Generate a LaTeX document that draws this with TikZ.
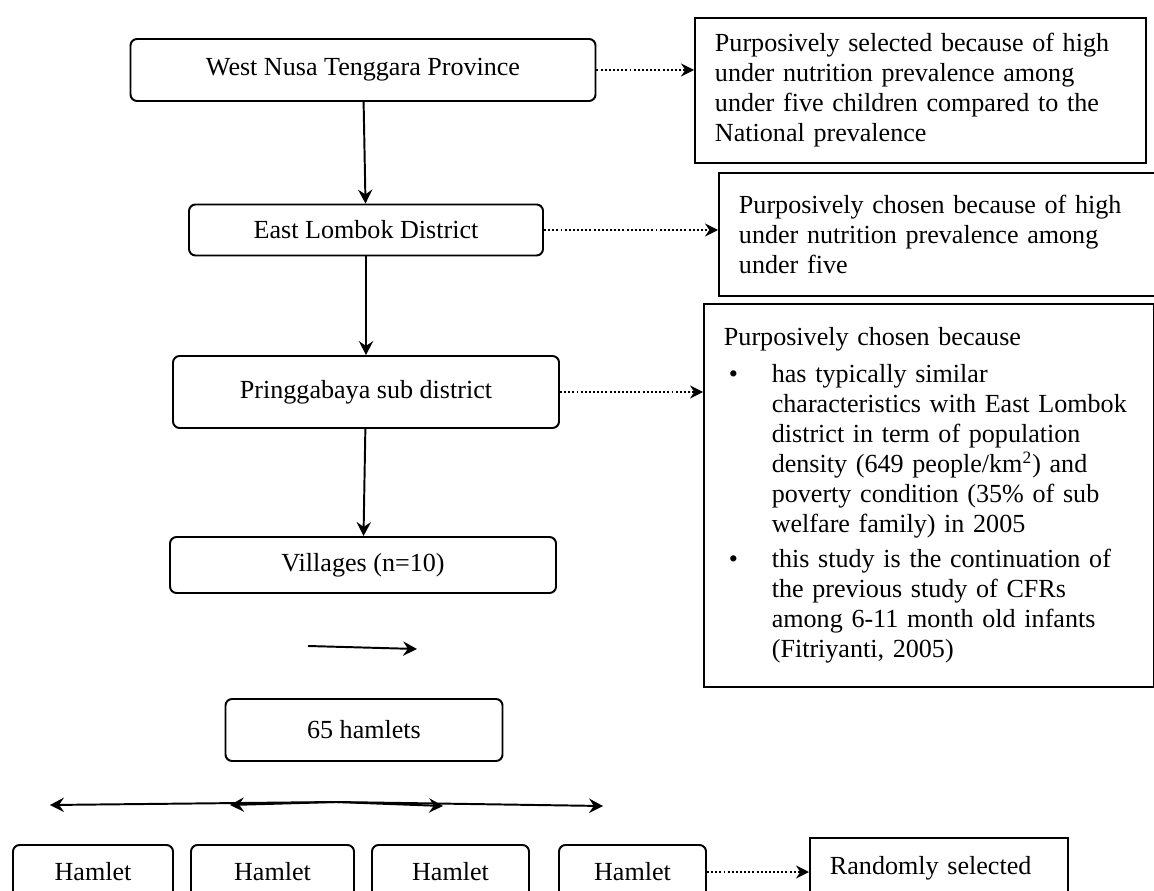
\documentclass[tikz,border=0pt]{standalone}
\usepackage{fontspec}
\setmainfont{Liberation Serif}
\usepackage{tikz}
\usetikzlibrary{arrows.meta,positioning}
\newcommand{\pxu}{0.46pt}
\newcommand{\bul}{\makebox[22pt][l]{\hspace{2.3pt}\textbullet}}
\newcommand{\bind}{\hspace*{22pt}}
\tikzset{
  stagebox/.style={draw=black, line width=0.9pt, rounded corners=3pt, align=center, inner sep=0pt, font=\fontsize{12}{13.8}\selectfont},
  notebox/.style={draw=black, line width=0.9pt, align=left, anchor=north west, inner xsep=20*\pxu, inner ysep=0pt, font=\fontsize{12}{13.8}\selectfont},
  flowarrow/.style={-{Stealth[length=6.4pt,width=6.6pt,inset=2.2pt]}, line width=0.9pt, draw=black},
  dotarrow/.style={-{Stealth[length=6pt,width=6pt,inset=2pt,line width=0.9pt]}, line width=0.9pt, draw=black, densely dotted}
}

\begin{document}
\begin{tikzpicture}[x=0.46pt, y=-0.46pt]
    \useasboundingbox (0,0) rectangle (1154,891);
    \clip (0,0) rectangle (1154,891);
    % sampling stages
    \node[stagebox, minimum width=465*\pxu, minimum height=62*\pxu] (prov) at (363,70) {West Nusa Tenggara Province};
    \node[stagebox, minimum width=354*\pxu, minimum height=51*\pxu] (dist) at (366,230) {East Lombok District};
    \node[stagebox, minimum width=386*\pxu, minimum height=72*\pxu] (subdist) at (366,392) {Pringgabaya sub district};
    \node[stagebox, minimum width=386*\pxu, minimum height=56*\pxu] (villages) at (363,565) {Villages (n=10)};
    \node[stagebox, minimum width=277*\pxu, minimum height=62*\pxu] (hamlets) at (364,730) {65 hamlets};
    \node[stagebox, minimum width=160*\pxu, minimum height=54*\pxu] (hamleta) at (93,872) {Hamlet};
    \node[stagebox, minimum width=163*\pxu, minimum height=54*\pxu] (hamletb) at (272.5,872) {Hamlet};
    \node[stagebox, minimum width=157*\pxu, minimum height=54*\pxu] (hamletc) at (450.5,872) {Hamlet};
    \node[stagebox, minimum width=147*\pxu, minimum height=54*\pxu] (hamletd) at (632.5,872) {Hamlet};
    % reasons
    \node[notebox, text width=411*\pxu, minimum height=145*\pxu] (provnote) at (694,17) {Purposively selected because of high\\under nutrition prevalence among\\under five children compared to the\\National prevalence};
    \node[notebox, text width=402*\pxu, minimum height=123*\pxu] (distnote) at (718,172) {Purposively chosen because of high\\under nutrition prevalence among\\under five};
    \node[notebox, text width=410*\pxu, minimum height=383*\pxu] (subnote) at (703,303) {Purposively chosen because\\[3.2pt]
      \bul has typically similar\\
      \bind characteristics with East Lombok\\
      \bind district in term of population\\
      \bind density (649 people/km\textsuperscript{2}) and\\
      \bind poverty condition (35\% of sub\\
      \bind welfare family) in 2005\\[2.3pt]
      \bul this study is the continuation of\\
      \bind the previous study of CFRs\\
      \bind among 6-11 month old infants\\
      \bind (Fitriyanti, 2005)};
    \node[notebox, text width=218*\pxu, minimum height=60*\pxu] (random) at (809,837) {Randomly selected};
    % loose arrows
    \coordinate (runa) at (308,646);
    \coordinate (runb) at (417,649);
    \coordinate (hub) at (336,802);
    \coordinate (spreada) at (50,805);
    \coordinate (spreadb) at (230,805);
    \coordinate (spreadc) at (443,806);
    \coordinate (spreadd) at (603,806);
    \draw[flowarrow] (prov) -- (dist);
    \draw[flowarrow] (dist) -- (subdist);
    \draw[flowarrow] (subdist) -- (villages);
    \draw[flowarrow] (runa) -- (runb);
    \draw[flowarrow] (hub) -- (spreada);
    \draw[flowarrow] (hub) -- (spreadb);
    \draw[flowarrow] (hub) -- (spreadc);
    \draw[flowarrow] (hub) -- (spreadd);
    \draw[dotarrow] (prov.east) -- (prov.east -| provnote.west);
    \draw[dotarrow] (dist.east) -- (dist.east -| distnote.west);
    \draw[dotarrow] (subdist.east) -- (subdist.east -| subnote.west);
    \draw[dotarrow] (hamletd.east) -- (hamletd.east -| random.west);
  \end{tikzpicture}
\end{document}
